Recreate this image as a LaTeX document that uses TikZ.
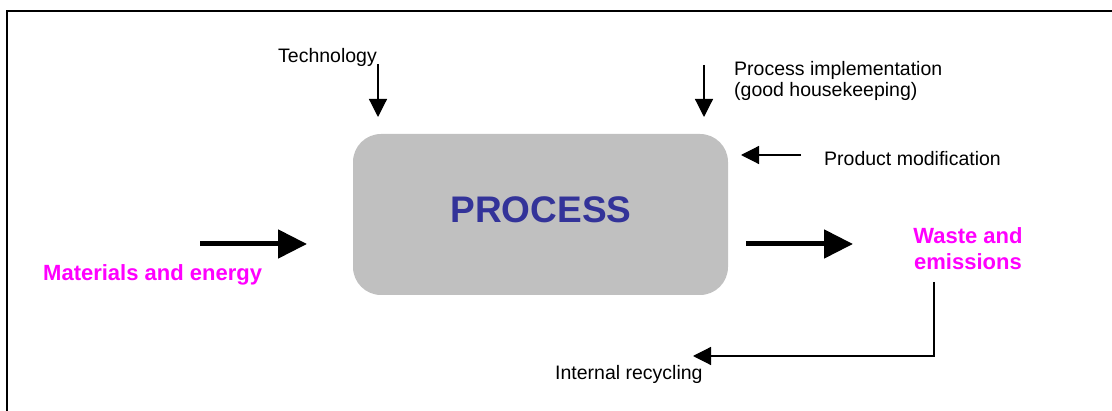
\documentclass[tikz,border=0pt]{standalone}
\usepackage{fontspec}
\setmainfont{Liberation Sans}
\usetikzlibrary{arrows.meta}
\definecolor{mag}{HTML}{FF00FF}
\definecolor{procblue}{HTML}{333399}
\definecolor{boxgray}{HTML}{C0C0C0}
\begin{document}
\begin{tikzpicture}[x=1pt,y=-1pt,
  lbl/.style={inner sep=0pt, font=\fontsize{19.5}{21.5}\selectfont},
  hot/.style={inner sep=0pt, text=mag, font=\bfseries\fontsize{22}{26}\selectfont},
  thinarrow/.style={line width=1.2pt, -{Triangle[length=18pt,width=18pt]}},
  thickarrow/.style={line width=5pt, -{Triangle[length=29pt,width=28pt]}},
]
\useasboundingbox (0,0) rectangle (1112,411);
\draw[line width=1.5pt] (7,412) -- (7,11) -- (1113,11);

% process box
\node[fill=boxgray, rounded corners=28pt, minimum width=375pt, minimum height=161pt, inner sep=0pt] (proc) at (540.5,214.5) {};
\node[anchor=base, text=procblue, font=\bfseries\fontsize{37}{40}\selectfont, inner sep=0pt] (proctext) at (541,223) {PROCESS};

% labels
\node[lbl, anchor=base east] (tech) at (377,63) {Technology};
\node[lbl, anchor=base west] (impl1) at (734,76) {Process implementation};
\node[lbl, anchor=base west] (impl2) at (734,97) {(good housekeeping)};
\node[lbl, anchor=base west] (prod) at (824,166) {Product modification};
\node[hot, anchor=base west] (mat) at (43,281) {Materials and energy};
\node[hot, anchor=base] (waste1) at (968,244) {Waste and};
\node[hot, anchor=base] (waste2) at (968,270) {emissions};
\node[lbl, anchor=base west] (recyc) at (555,380) {Internal recycling};

% arrow end points
\coordinate (techtail) at (378,64);
\coordinate (techtip) at (378,117);
\coordinate (impltail) at (704,65);
\coordinate (impltip) at (704,117);
\coordinate (prodtail) at (801,155);
\coordinate (prodtip) at (741,155);
\coordinate (mattail) at (200,244);
\coordinate (mattip) at (307,244);
\coordinate (wastetail) at (746,244);
\coordinate (wastetip) at (853,244);
\coordinate (recyctail) at (934,282);
\coordinate (recyctip) at (693,356);

\draw[thinarrow] (techtail) -- (techtip);
\draw[thinarrow] (impltail) -- (impltip);
\draw[thinarrow] (prodtail) -- (prodtip);
\draw[thickarrow] (mattail) -- (mattip);
\draw[thickarrow] (wastetail) -- (wastetip);
\draw[thinarrow] (recyctail) |- (recyctip);
\end{tikzpicture}
\end{document}
